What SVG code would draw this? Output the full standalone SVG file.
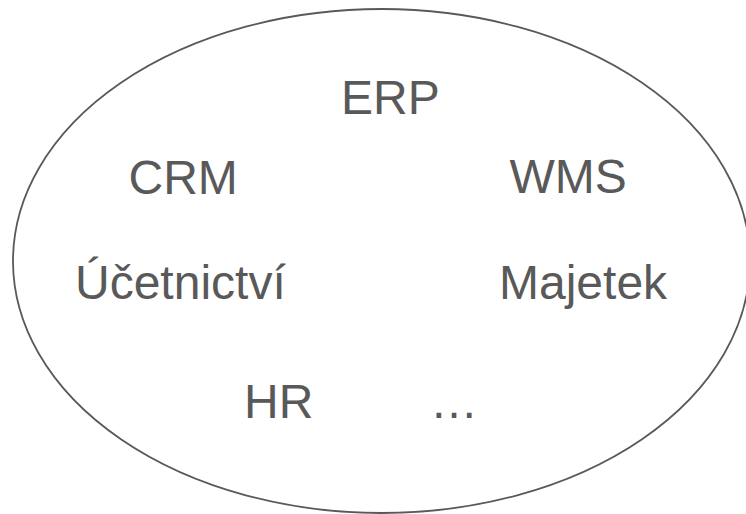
<svg xmlns="http://www.w3.org/2000/svg" width="746" height="514" viewBox="0 0 746 514">
<style>
.t{font-family:"Liberation Sans",Arial,sans-serif;font-size:48px;fill:#595959}
.e{fill:none;stroke:#595959;stroke-width:1.8}
</style>
<rect width="746" height="514" fill="#fff"/>
<g id="system"><ellipse class="e" cx="381.5" cy="261" rx="368.5" ry="252"/></g>
<g id="connectors"/>
<g id="erp"><text class="t" x="341" y="114">ERP</text></g>
<g id="crm"><text class="t" x="128.5" y="194">CRM</text></g>
<g id="wms"><text class="t" x="509.5" y="193">WMS</text></g>
<g id="ucetnictvi"><text class="t" x="75" y="299">Účetnictví</text></g>
<g id="majetek"><text class="t" x="499" y="299">Majetek</text></g>
<g id="hr"><text class="t" x="244" y="418">HR</text></g>
<g id="more"><text class="t" x="430" y="418">…</text></g>
</svg>
